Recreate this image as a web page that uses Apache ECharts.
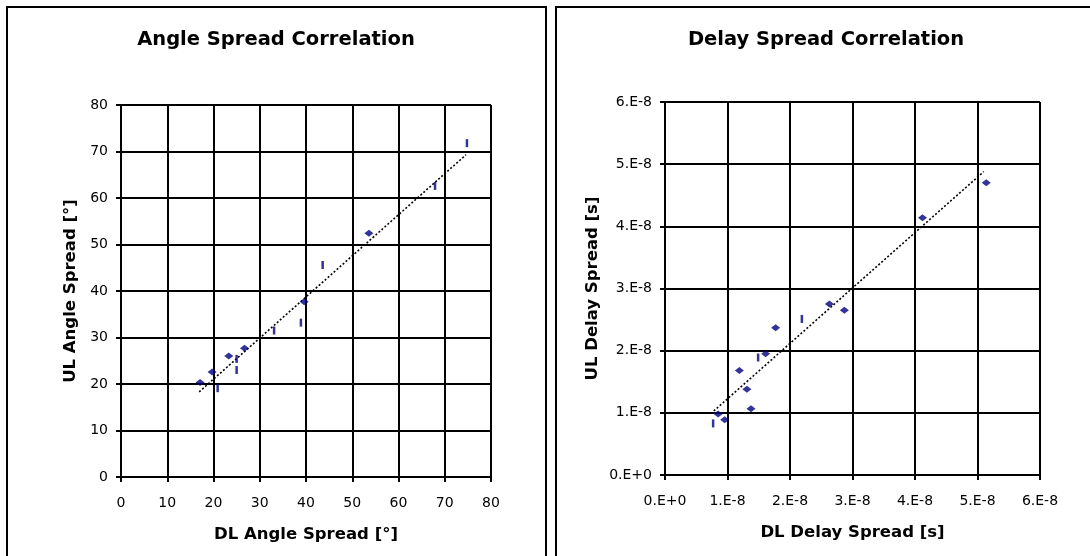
<!DOCTYPE html>
<html>
<head>
<meta charset="utf-8">
<script src="https://cdn.jsdelivr.net/npm/echarts@6/dist/echarts.min.js"></script>
<style>
  html, body { margin: 0; padding: 0; background: #fff; }
  #chart { width: 1090px; height: 556px; }
</style>
</head>
<body>
<div id="chart"></div>
<script>
// Angle spread, degrees: [DL, UL]
const angleDiamonds = [[17.1, 20.3], [19.7, 22.6], [23.3, 26.0], [26.7, 27.7], [39.6, 37.7], [53.6, 52.4]];
const angleBars = [[20.9, 19.1], [25.0, 25.4], [25.0, 23.0], [33.1, 31.5], [38.9, 33.2], [43.6, 45.6], [67.9, 62.6], [74.8, 71.8]];
const angleTrend = [[16.9, 18.3], [74.6, 69.3]];
const angleTickLabels = ['0', '10', '20', '30', '40', '50', '60', '70', '80'];

// Delay spread, seconds: [DL, UL]
const delayDiamonds = [[0.85e-8, 0.98e-8], [0.955e-8, 0.89e-8], [1.19e-8, 1.68e-8], [1.31e-8, 1.38e-8], [1.376e-8, 1.065e-8],
  [1.61e-8, 1.95e-8], [1.77e-8, 2.37e-8], [2.63e-8, 2.75e-8], [2.87e-8, 2.65e-8], [4.12e-8, 4.14e-8], [5.14e-8, 4.70e-8]];
const delayBars = [[0.77e-8, 0.83e-8], [1.49e-8, 1.89e-8], [2.19e-8, 2.51e-8]];
const delayTrend = [[0.78e-8, 1.03e-8], [5.10e-8, 4.88e-8]];
const delayTickLabels = ['0.E+0', '1.E-8', '2.E-8', '3.E-8', '4.E-8', '5.E-8', '6.E-8'];

const FONT = '"DejaVu Sans", sans-serif';
const MARK = '#000080';

function valueAxis(gridIndex, max, step, labels, name, nameGap, isY) {
  return {
    type: 'value', gridIndex, min: 0, max, interval: step,
    name, nameLocation: 'middle', nameGap,
    nameTextStyle: { fontFamily: FONT, fontWeight: 'bold', fontSize: 16.5, color: '#000' },
    axisLine: { show: true, onZero: false, lineStyle: { color: '#000', width: 2 } },
    axisTick: { show: true, inside: false, length: 5, lineStyle: { color: '#000', width: 2 } },
    splitLine: { show: true, lineStyle: { color: '#000', width: 2 } },
    axisLabel: {
      fontFamily: FONT, fontSize: 14, color: '#000', margin: isY ? 13 : 19,
      formatter: v => labels[Math.round(v / step)]
    }
  };
}

function scatter(x, y, data, symbol, size) {
  return { type: 'scatter', xAxisIndex: x, yAxisIndex: y, data, symbol, symbolSize: size,
    itemStyle: { color: MARK }, silent: true, z: 5 };
}
function trend(x, y, data) {
  return { type: 'line', xAxisIndex: x, yAxisIndex: y, data, symbol: 'none', silent: true, z: 4,
    lineStyle: { color: '#000', width: 1.6, type: [2, 2] } };
}

const titleStyle = { fontFamily: FONT, fontWeight: 'bold', fontSize: 19.5, color: '#000' };

const chart = echarts.init(document.getElementById('chart'), null, { renderer: 'canvas' });
chart.setOption({
  animation: false,
  backgroundColor: '#fff',
  title: [
    { text: 'Angle Spread Correlation', left: 271, top: 25, textAlign: 'center', textStyle: titleStyle },
    { text: 'Delay Spread Correlation', left: 821, top: 25, textAlign: 'center', textStyle: titleStyle }
  ],
  graphic: [
    { type: 'rect', shape: { x: 7, y: 7, width: 539, height: 600 }, style: { fill: 'none', stroke: '#000', lineWidth: 2 }, z: 0 },
    { type: 'rect', shape: { x: 556, y: 7, width: 600, height: 600 }, style: { fill: 'none', stroke: '#000', lineWidth: 2 }, z: 0 }
  ],
  grid: [
    { left: 121, top: 105, width: 370, height: 372 },
    { left: 665, top: 102, width: 375, height: 373 }
  ],
  xAxis: [
    valueAxis(0, 80, 10, angleTickLabels, 'DL Angle Spread [°]', 49, false),
    valueAxis(1, 6e-8, 1e-8, delayTickLabels, 'DL Delay Spread [s]', 49, false)
  ],
  yAxis: [
    valueAxis(0, 80, 10, angleTickLabels, 'UL Angle Spread [°]', 42, true),
    valueAxis(1, 6e-8, 1e-8, delayTickLabels, 'UL Delay Spread [s]', 64, true)
  ],
  series: [
    trend(0, 0, angleTrend),
    scatter(0, 0, angleDiamonds, 'diamond', [9, 7]),
    scatter(0, 0, angleBars, 'rect', [2.5, 8]),
    trend(1, 1, delayTrend),
    scatter(1, 1, delayDiamonds, 'diamond', [9, 7]),
    scatter(1, 1, delayBars, 'rect', [2.5, 8])
  ]
});
</script>
</body>
</html>
